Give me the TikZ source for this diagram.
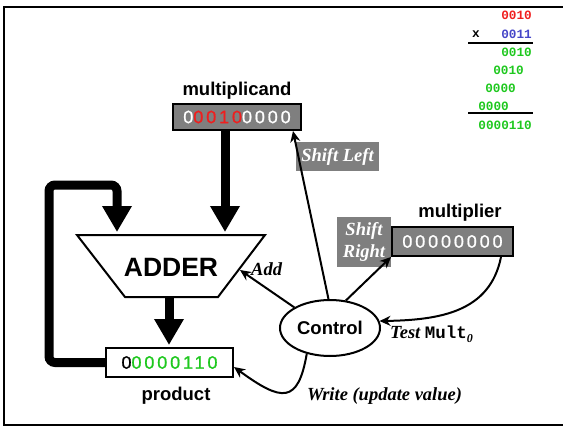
\documentclass[tikz,border=0pt]{standalone}
\usepackage{fontspec}
\setmainfont{Liberation Serif}
\setsansfont{Liberation Sans}
\setmonofont{Liberation Mono}
\newfontfamily\digitfont[LetterSpace=16,FakeBold=1]{Liberation Sans}
\usetikzlibrary{arrows.meta,calc,shapes.geometric}
\definecolor{regred}{HTML}{F01E1E}
\definecolor{regblue}{HTML}{4646C8}
\definecolor{reggreen}{HTML}{1EC81E}
\definecolor{reggray}{HTML}{7F7F7F}
\begin{document}
\begin{tikzpicture}[x=1pt,y=-1pt,
  lbl/.style={font=\fontsize{18.5}{20}\selectfont\sffamily\bfseries, inner sep=0pt},
  act/.style={font=\fontsize{18.5}{22}\selectfont\rmfamily\bfseries\itshape, inner sep=0pt},
  tag/.style={act, fill=reggray, text=white, align=center},
  regbox/.style={draw, line width=2pt, inner sep=0pt, font=\digitfont\fontsize{18}{20}\selectfont},
  bigarrow/.style={line width=9pt, -{Triangle[length=26pt,width=28pt]}},
  ctlarrow/.style={line width=2pt, -{Stealth[length=11pt,width=10pt]}},
  sumrow/.style={font=\fontsize{12.7}{14}\selectfont\ttfamily\bfseries, inner sep=0pt, anchor=east}
]
\useasboundingbox (0,0) rectangle (563,429);
% frame
\draw[line width=2.6pt] (566,7) -- (4,7) -- (4,425) -- (566,425);

% paper-and-pencil multiplication
\node[sumrow, text=regred] (r1) at (532,15) {0010};
\node[sumrow, anchor=center] (rx) at (476,34) {x};
\node[sumrow, text=regblue] (r2) at (532,34) {0011};
\draw[line width=2pt] (468,43) -- (533,43);
\node[sumrow, text=reggreen] (r3) at (532,52) {0010};
\node[sumrow, text=reggreen] (r4) at (524,70) {0010};
\node[sumrow, text=reggreen] (r5) at (516,88) {0000};
\node[sumrow, text=reggreen] (r6) at (509,106) {0000};
\draw[line width=2pt] (468,113) -- (533,113);
\node[sumrow, text=reggreen] (r7) at (532,125) {0000110};

% multiplicand
\node[lbl] (mcandlbl) at (237,91) {multiplicand};
\node[regbox, fill=reggray, minimum width=128pt, minimum height=26pt] (mcand) at (237,117)
  {\textcolor{white}{0}\textcolor{regred}{0010}\textcolor{white}{0000}};

% adder
\coordinate (atl) at (77,235);
\coordinate (atr) at (265,235);
\coordinate (abr) at (218,297);
\coordinate (abl) at (125,297);
\draw[line width=2pt, fill=white] (atl) -- (atr) -- (abr) -- (abl) -- cycle;
\node[lbl, font=\fontsize{26.5}{28}\selectfont\sffamily\bfseries] (adder) at (171,267) {ADDER};

% product
\node[regbox, fill=white, minimum width=127pt, minimum height=29pt] (prod) at (169.5,362.5)
  {0\textcolor{reggreen}{0000110}};
\node[lbl] (prodlbl) at (176,396) {product};

% multiplier
\node[lbl] (mplierlbl) at (460,213) {multiplier};
\node[regbox, fill=reggray, text=white, minimum width=121pt, minimum height=29pt] (mplier) at (452.5,241.5)
  {00000000};

% control
\node[draw, ellipse, line width=2pt, minimum width=100pt, minimum height=56pt, inner sep=0pt,
  font=\fontsize{18.5}{20}\selectfont\sffamily\bfseries] (ctrl) at (330,328) {Control};

% data paths
\coordinate (inL) at (117,232);
\coordinate (inR) at (225,232);
\coordinate (outB) at (169,297);
\coordinate (inP) at (169,345);
\draw[bigarrow, rounded corners=6pt] (prod.west) -- (49,362.5) -- (49,185) -- (117,185) -- (inL);
\draw[bigarrow] (mcand.south -| inR) -- (inR);
\draw[bigarrow] (outB) -- (inP);

% tags
\node[tag, minimum width=83pt, minimum height=29pt] (sl) at (337.5,156.5) {Shift Left};
\node[tag, minimum width=54pt, minimum height=50pt] (sr) at (364,242) {Shift\\Right};

% control signals
\coordinate (addpt) at (240,270);
\draw[ctlarrow] (ctrl.150) -- (addpt);
\draw[ctlarrow] (ctrl.93) -- ($(mcand.south east)+(-9,0)$);
\draw[ctlarrow] (ctrl.60) -- (mplier.south west);
\draw[ctlarrow] ($(mplier.south east)+(-13,0)$) .. controls (490,312) and (440,320) .. (ctrl.8);
\draw[ctlarrow] (ctrl.-132) .. controls (298,404) and (282,402) .. (prod.-4);

% labels
\node[act, anchor=west] (addlbl) at (251,269) {Add};
\node[act, anchor=west] (writelbl) at (307,396) {Write (update value)};
\node[anchor=west, inner sep=0pt] (testlbl) at (390,334)
  {{\fontsize{18.5}{20}\selectfont\rmfamily\bfseries\itshape Test}\hspace{4.5pt}{\fontsize{17.5}{20}\selectfont\ttfamily\bfseries Mult}\raisebox{-4pt}{\fontsize{12}{12}\selectfont\rmfamily\bfseries\itshape 0}};
\end{tikzpicture}
\end{document}
